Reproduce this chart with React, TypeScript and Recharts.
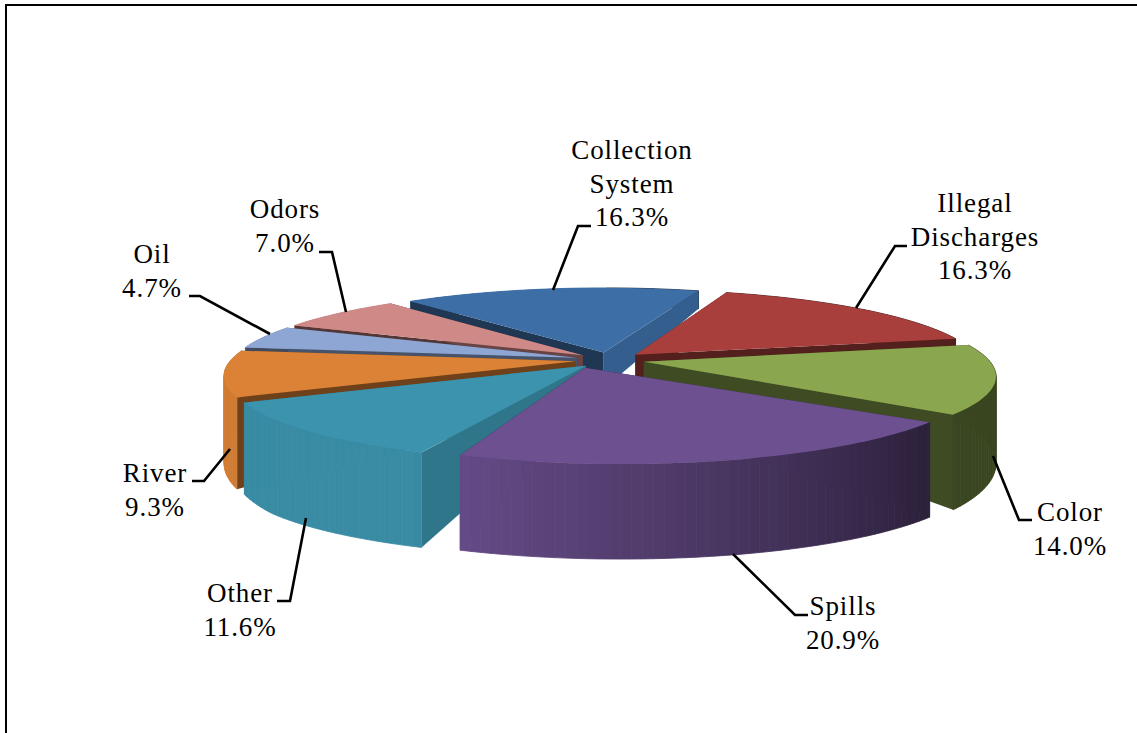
import { PieChart, Pie } from "recharts";

const categories = ["Collection System", "Illegal Discharges", "Color", "Spills", "Other", "River", "Oil", "Odors"];
const shares = [16.3, 16.3, 14.0, 20.9, 11.6, 9.3, 4.7, 7.0];
const topColors = ["#3d6ea6", "#a83f3c", "#8aa64e", "#6c5090", "#3c93ad", "#db8236", "#8ea6d3", "#cf8a88"];

// label text lines, centre x and first baseline
const labelLines = [["Collection", "System"], ["Illegal", "Discharges"], ["Color"], ["Spills"], ["Other"], ["River"], ["Oil"], ["Odors"]];
const labelCenters = [632, 975, 1070, 843, 240, 155, 152, 285];
const labelBaselines = [159, 212, 521, 615, 602, 482, 263, 218];
const leaders = [
  "553,290 578,226 591,226",
  "856,308 895,246 907,246",
  "993,456 1019,520 1032,520",
  "733,554 795,615 808,615",
  "306,518 290,601 277,601",
  "230,449 204,481 192,481",
  "270,334 200,296 189,296",
  "346,312 332,252 319,252",
];

// back slices are painted first so the nearer ones cover their walls
const paintOrder = [0, 7, 6, 1, 5, 2, 4, 3];
// brightness of the two straight cut faces of each slice
const startFaceShade = [0.5, 0.5, 0.5, 0.5, 0.8, 0.5, 0.45, 0.4];
const endFaceShade = [0.85, 0.5, 0.45, 0.5, 0.8, 0.5, 0.5, 0.5];
// sideways pull of each slice's inner tip
const tipShift = [0, 0, 0, -34, 0, 0, 0, 0];

const rows = categories.map((name, i) => ({ name, value: shares[i], fill: topColors[i] }));

const TILT = 0.225;
const PERSPECTIVE = 0.166;
const EXPLODE = 0.1;
const FIRST_SLICE = -40;

const shade = (hex: string, k: number) => {
  const n = parseInt(hex.slice(1), 16);
  const c = [(n >> 16) & 255, (n >> 8) & 255, n & 255].map((v) => Math.round(v * k));
  return `rgb(${c[0]},${c[1]},${c[2]})`;
};

const rad = (deg: number) => (deg * Math.PI) / 180;
const clamp = (v: number) => Math.max(0, Math.min(1, v));

// wall brightness along the rim: lit on the left, falling off to the right
const rimShade = (phi: number) => {
  const a = ((phi % 360) + 360) % 360;
  return 0.42 + 0.53 * clamp((a - 130) / 75);
};

// wall height is low at the centre and the far rim, tall on the near rim
const wallHeight = (z: number, r: number) => {
  const rim = z < -0.2 ? 18 + 62 * clamp((z + 0.75) / 0.55) : 80 + 15 * clamp((z + 0.2) / 0.8);
  return 36 + r * (rim - 36);
};

function Slice(props: any) {
  const { cx, cy, outerRadius: R, startAngle, endAngle, midAngle, fill, index } = props;
  // recharts angles run counter-clockwise from 3 o'clock, phi is clockwise from 12
  const from = 90 - startAngle;
  const to = 90 - endAngle;
  const mid = rad(90 - midAngle);
  const ox = EXPLODE * Math.sin(mid);
  const oz = -EXPLODE * Math.cos(mid);

  const project = (phi: number, r: number) => {
    const x = r * Math.sin(rad(phi)) + ox;
    const z = -r * Math.cos(rad(phi)) + oz;
    const s = 1 / (1 - PERSPECTIVE * z);
    const h = wallHeight(-r * Math.cos(rad(phi)), r);
    return { x: cx + R * x * s, y: cy + TILT * R * z * s, h };
  };
  const pt = (p: { x: number; y: number }) => `${p.x},${p.y}`;
  const down = (p: { x: number; y: number; h: number }) => `${p.x},${p.y + p.h}`;

  const tip = project(from, 0);
  const apex = { ...tip, x: tip.x + tipShift[index] };
  const farStrips = [];
  const nearStrips = [];
  const rim = [];
  const STEP = 1.5;
  for (let a = from; a < to; a += STEP) {
    const b = Math.min(a + STEP, to);
    const p = project(a, 1);
    const q = project(b, 1);
    const color = shade(fill, rimShade((a + b) / 2));
    const strip = <polygon key={a} points={`${pt(p)} ${pt(q)} ${down(q)} ${down(p)}`} fill={color} stroke={color} strokeWidth={0.8} />;
    if (Math.cos(rad((a + b) / 2)) > 0) farStrips.push(strip);
    else nearStrips.push(strip);
    rim.push(pt(p));
  }
  rim.push(pt(project(to, 1)));

  const first = project(from, 1);
  const last = project(to, 1);
  return (
    <g>
      {farStrips}
      <polygon points={`${pt(apex)} ${pt(first)} ${down(first)} ${down(apex)}`} fill={shade(fill, startFaceShade[index])} />
      <polygon points={`${pt(apex)} ${pt(last)} ${down(last)} ${down(apex)}`} fill={shade(fill, endFaceShade[index])} />
      {nearStrips}
      <polygon points={`${pt(apex)} ${rim.join(" ")}`} fill={fill} />
    </g>
  );
}

const renderLabel = (props: any) => {
  const i = props.index;
  const lines = [...labelLines[i], `${shares[i].toFixed(1)}%`];
  return (
    <g key={i}>
      <polyline points={leaders[i]} fill="none" stroke="#000" strokeWidth={2.6} />
      <text textAnchor="middle" fontFamily="'Liberation Serif', serif" fontSize={27} letterSpacing={0.9} fill="#000">
        {lines.map((line, k) => (
          <tspan key={k} x={labelCenters[i]} y={labelBaselines[i] + k * 33.5}>
            {line}
          </tspan>
        ))}
      </text>
    </g>
  );
};

export default function App() {
  return (
    <div style={{ position: "absolute", left: 0, top: 0, width: 1137, height: 733, background: "#fff", overflow: "hidden" }}>
      <div style={{ position: "absolute", left: 5, top: 4, right: 0, bottom: 0, borderLeft: "2.5px solid #000", borderTop: "2.5px solid #000" }} />
      <PieChart width={1137} height={733} style={{ position: "absolute", left: 0, top: 0 }}>
        {paintOrder.map((slice, layer) => (
          <Pie
            key={slice}
            data={rows}
            dataKey="value"
            nameKey="name"
            cx={605}
            cy={355}
            outerRadius={345}
            startAngle={90 - FIRST_SLICE}
            endAngle={90 - FIRST_SLICE - 360}
            stroke="none"
            isAnimationActive={false}
            shape={(p: any) => (p.index === slice ? <Slice {...p} /> : <g />)}
            label={layer === paintOrder.length - 1 ? renderLabel : false}
            labelLine={false}
          />
        ))}
      </PieChart>
    </div>
  );
}
